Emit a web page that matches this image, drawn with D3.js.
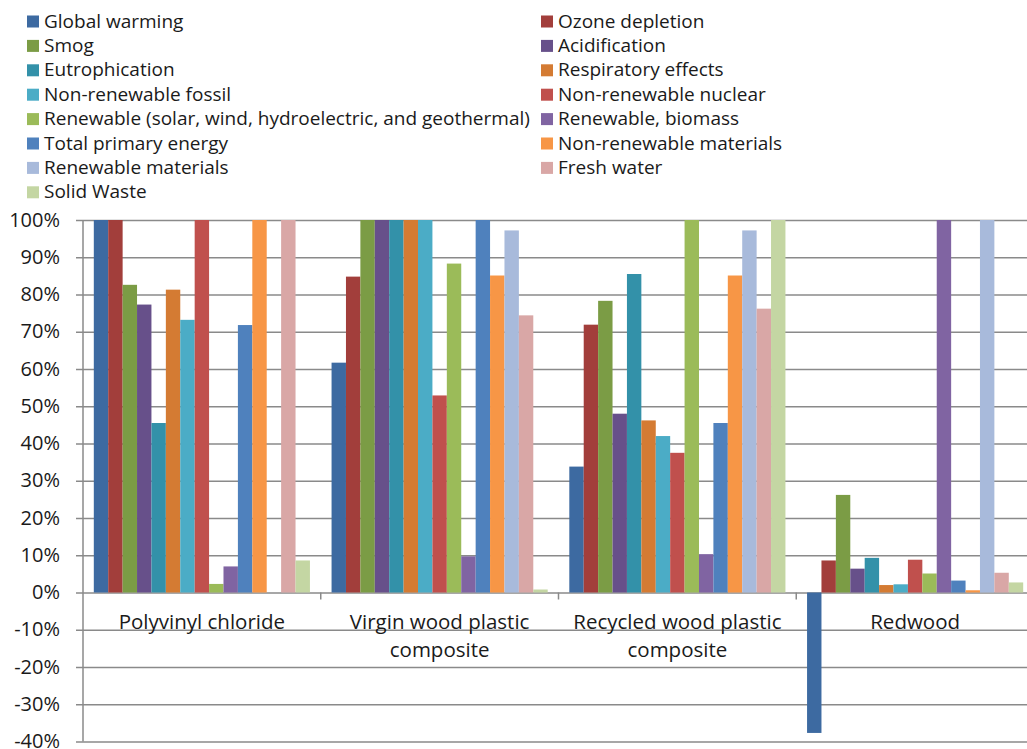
<!DOCTYPE html>
<html>
<head>
<meta charset="utf-8">
<script src="https://cdn.jsdelivr.net/npm/d3@7"></script>
<style>
  body { margin: 0; background: #fff; }
  svg { display: block; font-family: "Open Sans", Lato, sans-serif; }
</style>
</head>
<body>
<svg id="chart" width="1027" height="749"></svg>
<script>
// Impact categories (series), in legend / bar order
const seriesNames = [
  "Global warming", "Ozone depletion", "Smog", "Acidification",
  "Eutrophication", "Respiratory effects", "Non-renewable fossil",
  "Non-renewable nuclear",
  "Renewable (solar, wind, hydroelectric, and geothermal)",
  "Renewable, biomass", "Total primary energy", "Non-renewable materials",
  "Renewable materials", "Fresh water", "Solid Waste"
];

const seriesColors = [
  "#3d6aa1", "#a23e3b", "#7b9c45", "#67508a",
  "#3391a9", "#d47b33", "#4bacc6", "#c0504d",
  "#9bbb59", "#8064a2", "#4f81bd", "#f79646",
  "#a8badb", "#d9a7a6", "#c4d6a3"
];

// Decking materials (categories)
const categories = [
  "Polyvinyl chloride",
  "Virgin wood plastic composite",
  "Recycled wood plastic composite",
  "Redwood"
];
const categoryLines = [
  ["Polyvinyl chloride"],
  ["Virgin wood plastic", "composite"],
  ["Recycled wood plastic", "composite"],
  ["Redwood"]
];

// Relative impact (%) for each material, one value per series
const pvc         = [100, 100, 82.6, 77.3, 45.5, 81.3, 73.2, 100, 2.3, 7.0, 71.8, 100, 0, 100, 8.6];
const virginWpc   = [61.7, 84.8, 100, 100, 100, 100, 100, 52.9, 88.3, 9.7, 100, 85.1, 97.2, 74.4, 0.8];
const recycledWpc = [33.8, 71.9, 78.3, 48.0, 85.5, 46.2, 42.0, 37.5, 100, 10.3, 45.5, 85.1, 97.2, 76.2, 100];
const redwood     = [-37.7, 8.6, 26.2, 6.4, 9.3, 2.0, 2.2, 8.8, 5.1, 100, 3.2, 0.6, 100, 5.3, 2.7];
const valuesByCategory = [pvc, virginWpc, recycledWpc, redwood];

const yTicks = [-40, -30, -20, -10, 0, 10, 20, 30, 40, 50, 60, 70, 80, 90, 100];

// ---- layout ----
const svg = d3.select("#chart");
const W = 1027;
const plotLeft = 83, plotRight = 1034, plotTop = 220, plotBottom = 741.5;

const x0 = d3.scaleBand().domain(categories).range([plotLeft, plotRight]).padding(0);
const x1 = d3.scaleBand().domain(seriesNames).range([0, x0.bandwidth()])
  .paddingInner(0).paddingOuter(0.75);
const y = d3.scaleLinear().domain([-40, 100]).range([plotBottom, plotTop]);
const color = d3.scaleOrdinal().domain(seriesNames).range(seriesColors);

// ---- gridlines + y labels ----
const yAxis = d3.axisLeft(y)
  .tickValues(yTicks)
  .tickFormat(d => d + "%")
  .tickSize(-(W - plotLeft))
  .tickPadding(23);

const gy = svg.append("g")
  .attr("transform", `translate(${plotLeft},0)`)
  .call(yAxis);
gy.select(".domain").remove();
gy.selectAll(".tick line")
  .attr("x1", -7)
  .attr("stroke", "#8a8a8a")
  .attr("stroke-width", 1.5);
gy.selectAll(".tick text")
  .attr("fill", "#1a1a1a")
  .attr("dy", "0.3em")
  .style("font-size", "20px")
  .style("font-family", "'Open Sans', Lato, sans-serif");

// ---- bars ----
const groups = svg.append("g").selectAll("g")
  .data(categories)
  .join("g")
  .attr("transform", d => `translate(${x0(d)},0)`);

groups.selectAll("rect")
  .data((d, i) => seriesNames.map((s, j) => ({ series: s, value: valuesByCategory[i][j] })))
  .join("rect")
  .attr("x", d => x1(d.series))
  .attr("width", x1.bandwidth())
  .attr("y", d => y(Math.max(0, d.value)))
  .attr("height", d => Math.abs(y(d.value) - y(0)))
  .attr("fill", d => color(d.series));

// ---- axes lines ----
svg.append("line")
  .attr("x1", plotLeft).attr("x2", plotLeft)
  .attr("y1", plotTop).attr("y2", plotBottom)
  .attr("stroke", "#8a8a8a").attr("stroke-width", 1.5);

svg.append("g").selectAll("line")
  .data(categories.slice(1))
  .join("line")
  .attr("x1", d => x0(d)).attr("x2", d => x0(d))
  .attr("y1", y(0)).attr("y2", y(0) + 7)
  .attr("stroke", "#8a8a8a").attr("stroke-width", 1.5);

// ---- category labels ----
const labels = svg.append("g").selectAll("text")
  .data(categories)
  .join("text")
  .attr("x", d => x0(d) + x0.bandwidth() / 2)
  .attr("y", 629)
  .attr("text-anchor", "middle")
  .attr("fill", "#1a1a1a")
  .style("font-size", "20.5px");
labels.selectAll("tspan")
  .data((d, i) => categoryLines[i])
  .join("tspan")
  .attr("x", function () { return d3.select(this.parentNode).attr("x"); })
  .attr("dy", (d, i) => i === 0 ? 0 : 28)
  .text(d => d);

// ---- legend (two columns) ----
const legendCols = [27, 541];
const legendTop = 27.5, legendStep = 24.4;
const legend = svg.append("g").selectAll("g")
  .data(seriesNames)
  .join("g")
  .attr("transform", (d, i) =>
    `translate(${legendCols[i % 2]},${legendTop + Math.floor(i / 2) * legendStep})`);
legend.append("rect")
  .attr("x", 0).attr("y", -12)
  .attr("width", 12).attr("height", 12)
  .attr("fill", d => color(d));
legend.append("text")
  .attr("x", 17).attr("y", 0)
  .attr("fill", "#1a1a1a")
  .style("font-size", "19px")
  .text(d => d);
</script>
</body>
</html>
